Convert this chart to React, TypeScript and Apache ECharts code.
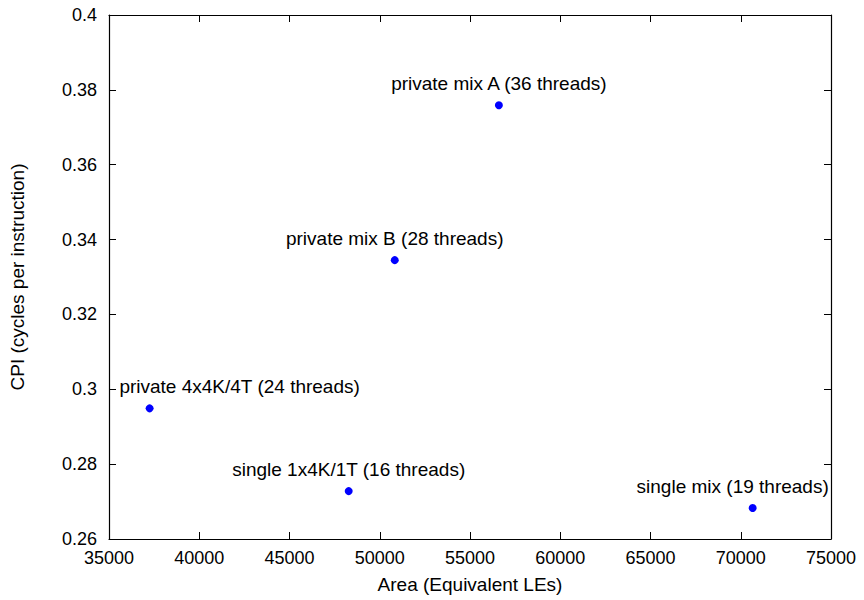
import React, { useEffect, useRef } from "react";
import * as echarts from "echarts";

const names = [
  "private mix A (36 threads)",
  "private mix B (28 threads)",
  "private 4x4K/4T (24 threads)",
  "single 1x4K/1T (16 threads)",
  "single mix (19 threads)",
];
const areas = [56600, 50830, 37250, 48280, 70660];
const cpis = [0.3759, 0.3345, 0.2949, 0.2728, 0.2683];
const labelShiftX = [0, 0, 90, 0, -20];

export default function App() {
  const ref = useRef<HTMLDivElement>(null);
  useEffect(() => {
    const chart = echarts.init(ref.current!, undefined, { renderer: "svg" });
    const font = "Liberation Sans, Arial, sans-serif";
    const fs = 18;
    const fsText = 19;
    const axisCommon = {
      axisLine: { show: true, lineStyle: { color: "#000", width: 1.2 } },
      axisTick: { show: true, inside: true, length: 7, lineStyle: { color: "#000", width: 1 } },
      splitLine: { show: false },
    };
    chart.setOption({
      animation: false,
      backgroundColor: "#fff",
      grid: {
        left: 109,
        right: 33,
        top: 15,
        bottom: 61,
        containLabel: false,
        outerBoundsMode: "none",
      },
      xAxis: [
        {
          type: "value",
          min: 35000,
          max: 75000,
          interval: 5000,
          name: "Area (Equivalent LEs)",
          nameLocation: "middle",
          nameGap: 36,
          nameTextStyle: { fontFamily: font, fontSize: fsText, color: "#000" },
          axisLabel: {
            fontFamily: font,
            fontSize: fs,
            color: "#000",
            margin: 10,
            formatter: (v: number) => String(v),
          },
          ...axisCommon,
        },
        {
          type: "value",
          position: "top",
          min: 35000,
          max: 75000,
          interval: 5000,
          axisLabel: { show: false },
          ...axisCommon,
        },
      ],
      yAxis: [
        {
          type: "value",
          min: 0.26,
          max: 0.4,
          interval: 0.02,
          name: "CPI (cycles per instruction)",
          nameLocation: "middle",
          nameGap: 82,
          nameTextStyle: { fontFamily: font, fontSize: fsText, color: "#000" },
          axisLabel: {
            fontFamily: font,
            fontSize: fs,
            color: "#000",
            margin: 12,
            formatter: (v: number) => String(parseFloat(v.toFixed(2))),
          },
          ...axisCommon,
        },
        {
          type: "value",
          position: "right",
          min: 0.26,
          max: 0.4,
          interval: 0.02,
          axisLabel: { show: false },
          ...axisCommon,
        },
      ],
      series: [
        {
          type: "scatter",
          symbol: "circle",
          symbolSize: 8,
          itemStyle: { color: "#0000ff", opacity: 1 },
          data: areas.map((a, i) => ({
            value: [a, cpis[i]],
            name: names[i],
            label: {
              show: true,
              position: "top",
              distance: 8,
              offset: [labelShiftX[i], 0],
              formatter: names[i],
              fontFamily: font,
              fontSize: fsText,
              color: "#000",
            },
          })),
        },
      ],
    });
    return () => chart.dispose();
  }, []);
  return (
    <div
      ref={ref}
      style={{ position: "absolute", left: 0, top: 0, width: 864, height: 600 }}
    />
  );
}
